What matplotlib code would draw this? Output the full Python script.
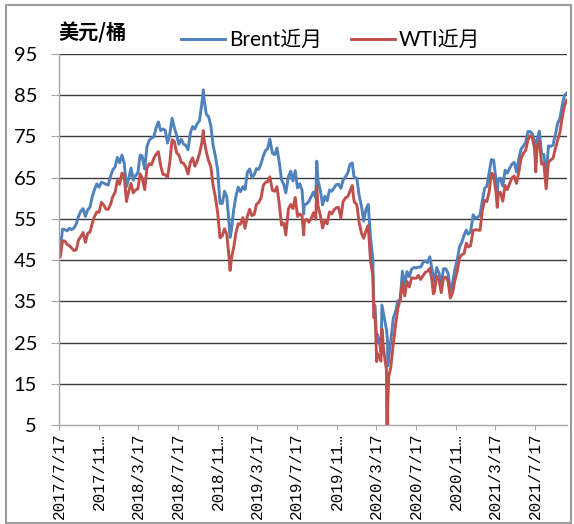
import matplotlib
matplotlib.use("Agg")
import matplotlib.pyplot as plt
import matplotlib.dates as mdates
from matplotlib.patches import Rectangle
import pandas as pd

dates = [
 "2017-07-17","2017-07-21","2017-07-28","2017-08-04","2017-08-11","2017-08-18","2017-08-25","2017-09-01","2017-09-08","2017-09-15","2017-09-22","2017-09-29","2017-10-06","2017-10-13","2017-10-20","2017-10-27","2017-11-03","2017-11-10","2017-11-17","2017-11-24","2017-12-01","2017-12-08","2017-12-15","2017-12-22","2017-12-29",
 "2018-01-05","2018-01-12","2018-01-19","2018-01-26","2018-02-02","2018-02-09","2018-02-16","2018-02-23","2018-03-02","2018-03-09","2018-03-16","2018-03-23","2018-03-29","2018-04-06","2018-04-13","2018-04-20","2018-04-27","2018-05-04","2018-05-11","2018-05-18","2018-05-25","2018-06-01","2018-06-08","2018-06-15","2018-06-22","2018-06-29","2018-07-06","2018-07-13","2018-07-20","2018-07-27","2018-08-03","2018-08-10","2018-08-17","2018-08-24","2018-08-31","2018-09-07","2018-09-14","2018-09-21","2018-09-28","2018-10-03","2018-10-05","2018-10-12","2018-10-19","2018-10-26","2018-11-02","2018-11-09","2018-11-16","2018-11-23","2018-11-30","2018-12-07","2018-12-14","2018-12-21","2018-12-24","2018-12-28",
 "2019-01-04","2019-01-11","2019-01-18","2019-01-25","2019-02-01","2019-02-08","2019-02-15","2019-02-22","2019-03-01","2019-03-08","2019-03-15","2019-03-22","2019-03-29","2019-04-05","2019-04-12","2019-04-18","2019-04-25","2019-05-03","2019-05-10","2019-05-17","2019-05-24","2019-05-31","2019-06-07","2019-06-13","2019-06-21","2019-06-28","2019-07-05","2019-07-12","2019-07-19","2019-07-26","2019-08-02","2019-08-07","2019-08-09","2019-08-16","2019-08-23","2019-08-30","2019-09-06","2019-09-13","2019-09-16","2019-09-20","2019-09-27","2019-10-04","2019-10-11","2019-10-18","2019-10-25","2019-11-01","2019-11-08","2019-11-15","2019-11-22","2019-11-29","2019-12-06","2019-12-13","2019-12-20","2019-12-27",
 "2020-01-03","2020-01-08","2020-01-10","2020-01-17","2020-01-24","2020-01-31","2020-02-07","2020-02-14","2020-02-21","2020-02-28","2020-03-06","2020-03-09","2020-03-13","2020-03-18","2020-03-20","2020-03-27","2020-03-31","2020-04-03","2020-04-09","2020-04-17","2020-04-20","2020-04-21","2020-04-24","2020-04-30","2020-05-08","2020-05-15","2020-05-22","2020-05-29","2020-06-05","2020-06-12","2020-06-19","2020-06-26","2020-07-03","2020-07-10","2020-07-17","2020-07-24","2020-07-31","2020-08-07","2020-08-14","2020-08-21","2020-08-28","2020-09-04","2020-09-08","2020-09-11","2020-09-18","2020-09-25","2020-10-02","2020-10-09","2020-10-16","2020-10-23","2020-10-30","2020-11-06","2020-11-13","2020-11-20","2020-11-27","2020-12-04","2020-12-11","2020-12-18","2020-12-24","2020-12-31",
 "2021-01-08","2021-01-15","2021-01-22","2021-01-29","2021-02-05","2021-02-12","2021-02-19","2021-02-26","2021-03-05","2021-03-12","2021-03-19","2021-03-23","2021-03-26","2021-04-01","2021-04-09","2021-04-16","2021-04-23","2021-04-30","2021-05-07","2021-05-14","2021-05-21","2021-05-28","2021-06-04","2021-06-11","2021-06-18","2021-06-25","2021-07-02","2021-07-09","2021-07-16","2021-07-19","2021-07-23","2021-07-30","2021-08-06","2021-08-13","2021-08-20","2021-08-27","2021-09-03","2021-09-10","2021-09-17","2021-09-24","2021-10-01","2021-10-08","2021-10-15","2021-10-22",
]

brent = [
 48.4,48.1,52.5,52.4,52.1,52.7,52.4,52.8,53.8,55.6,56.9,57.5,55.6,57.2,57.8,60.4,62.1,63.5,62.7,63.9,63.7,63.4,63.2,65.3,66.9,
 67.6,69.9,68.6,70.5,68.6,62.8,64.8,67.3,64.4,65.5,66.2,70.5,70.3,67.1,72.6,74.1,74.6,74.9,77.1,78.5,76.4,76.8,76.5,73.4,75.6,79.4,77.1,75.3,73.1,74.3,73.2,72.8,71.8,75.8,77.4,76.8,78.1,78.8,82.7,86.3,84.2,80.4,79.8,77.6,72.8,70.2,66.8,58.8,58.7,61.7,60.3,53.8,50.5,52.2,
 57.1,60.5,62.7,61.6,62.8,62.1,66.3,67.1,65.1,65.7,67.2,67.0,68.4,70.3,71.6,72.0,74.4,70.9,70.6,72.2,68.7,64.5,63.3,61.3,65.2,66.6,64.2,66.7,62.5,63.5,61.9,56.2,58.5,58.6,59.3,60.4,61.5,60.2,69.0,64.3,61.9,58.4,60.5,59.4,62.0,61.7,62.5,63.3,63.4,62.4,64.4,65.2,66.1,68.2,
 68.6,65.4,65.0,64.9,60.7,58.2,54.5,57.3,58.5,50.5,45.3,34.4,33.9,24.9,27.0,24.9,22.7,34.1,31.5,28.1,25.6,19.3,21.4,25.3,31.0,32.5,35.1,35.3,42.3,38.7,42.2,41.0,42.8,43.2,43.1,43.3,43.3,44.4,44.8,44.4,45.8,42.7,39.8,39.8,43.2,41.9,39.3,42.9,42.9,41.8,37.5,39.5,42.8,45.0,48.2,49.3,51.0,52.3,51.3,51.8,
 56.0,55.1,55.4,55.9,59.3,62.4,62.9,66.1,69.4,69.2,64.5,60.8,64.6,64.9,63.0,66.8,66.1,67.3,68.3,68.7,66.4,69.6,71.9,72.7,73.5,76.2,76.2,75.6,73.6,68.6,74.1,76.3,70.7,70.6,65.2,72.7,72.6,72.9,75.3,78.1,79.3,82.4,84.9,85.5,
]

wti = [
 46.0,45.8,49.7,49.6,48.8,48.5,47.9,47.3,47.5,49.9,50.7,51.7,49.3,51.5,51.8,53.9,55.6,56.7,56.6,59.0,58.4,57.4,57.3,58.5,60.4,
 61.4,64.3,63.4,66.1,65.5,59.2,61.7,63.6,61.3,62.0,62.3,65.9,64.9,62.1,67.4,68.4,68.1,69.7,70.7,71.3,67.9,65.8,65.7,65.1,68.6,74.2,73.8,71.0,70.5,68.7,68.5,67.6,65.9,68.7,69.8,67.8,69.0,70.8,73.3,76.4,74.3,71.3,69.1,67.6,63.1,60.2,56.5,50.4,50.9,52.6,51.2,45.6,42.5,45.3,
 48.0,51.6,53.8,53.7,55.3,52.7,55.6,57.3,55.8,56.1,58.5,59.0,60.1,63.1,63.9,64.0,65.2,61.9,61.7,62.8,58.6,53.5,54.0,51.1,57.4,58.5,57.5,60.2,55.6,56.2,55.7,51.1,54.5,54.9,54.2,55.1,56.5,54.9,62.9,58.1,55.9,52.8,54.7,53.8,56.7,56.2,57.2,57.7,57.8,55.2,59.2,60.1,60.4,61.7,
 63.1,59.6,59.0,58.5,54.2,51.6,50.3,52.1,53.4,44.8,41.3,31.1,31.7,20.4,22.4,21.5,20.5,28.3,22.8,18.3,-37.6,10.0,16.9,18.8,24.7,29.4,33.3,35.5,39.6,36.3,39.8,38.5,40.7,40.6,40.6,41.3,40.3,41.2,42.0,42.3,43.0,39.8,36.8,37.3,41.1,40.3,37.1,40.6,40.9,39.9,35.8,37.1,40.1,42.2,45.5,46.3,46.6,49.1,48.2,48.5,
 52.2,52.4,52.3,52.2,56.9,59.5,59.2,61.5,66.1,65.6,61.4,57.8,61.0,61.5,59.3,63.1,62.1,63.6,64.9,65.4,63.6,66.3,69.6,70.9,71.6,74.1,75.2,74.6,71.8,66.4,72.1,74.0,68.3,68.4,62.3,68.7,69.3,69.7,72.0,74.0,75.9,79.4,82.3,83.8,
]

tick_dates = ["2017-07-17","2017-11-17","2018-03-17","2018-07-17","2018-11-17","2019-03-17","2019-07-17",
              "2019-11-17","2020-03-17","2020-07-17","2020-11-17","2021-03-17","2021-07-17"]
tick_labels = ["2017/7/17","2017/11…","2018/3/17","2018/7/17","2018/11…","2019/3/17","2019/7/17",
               "2019/11…","2020/3/17","2020/7/17","2020/11…","2021/3/17","2021/7/17"]
y_ticks = [5, 15, 25, 35, 45, 55, 65, 75, 85, 95]

W, H = 574, 524
fig = plt.figure(figsize=(W/100, H/100), dpi=100)
ax = fig.add_axes([59/W, 1-425/H, (567-59)/W, (425-54)/H])

d = pd.to_datetime(dates)
ax.plot(d, brent, color='#4F81BD', lw=2.1, label='Brent近月', solid_joinstyle='round')
ax.plot(d, wti, color='#C0504D', lw=2.1, label='WTI近月', solid_joinstyle='round')

ax.set_ylim(5, 95)
ax.set_yticks(y_ticks)
ax.set_xlim(pd.Timestamp("2017-07-17"), pd.Timestamp("2021-10-23"))
ax.set_xticks(pd.to_datetime(tick_dates))
ax.set_xticklabels(tick_labels, rotation=90, fontsize=11.5, family='Liberation Mono')
for lab in ax.get_yticklabels():
    lab.set_family('Lato')
    lab.set_fontsize(14.5)

ax.grid(axis='y', color='#3a3a3a', lw=1.0)
ax.set_axisbelow(True)
ax.yaxis.get_gridlines()[0].set_visible(False)
for s in ['top', 'right']:
    ax.spines[s].set_visible(False)
ax.spines['left'].set_color('#a6a6a6')
ax.spines['bottom'].set_color('#a6a6a6')
ax.spines['left'].set_linewidth(1.0)
ax.spines['bottom'].set_linewidth(1.0)
ax.tick_params(axis='y', direction='out', length=5.8, color='#a6a6a6', pad=10)
ax.tick_params(axis='x', direction='out', length=3.6, color='#a6a6a6', pad=2)

fig.text(58/W, 1-33/H, '美元/桶', fontsize=14.5, fontweight='bold',
         family=['Noto Sans CJK SC', 'DejaVu Sans'], va='center', ha='left')

leg = ax.legend(loc='center left', bbox_to_anchor=(181/W, 1-40/H), bbox_transform=fig.transFigure,
                ncol=2, frameon=False, borderpad=0, borderaxespad=0, handlelength=2.1,
                handletextpad=0.2, columnspacing=1.4,
                prop={'family': ['Lato', 'Noto Sans CJK SC'], 'size': 15})

fig.add_artist(Rectangle((6/W, 1-523/H), (571-6)/W, (523-5)/H, transform=fig.transFigure,
                         fill=False, edgecolor='#9a9a9a', lw=1.5))

fig.savefig('out.png', dpi=100)
